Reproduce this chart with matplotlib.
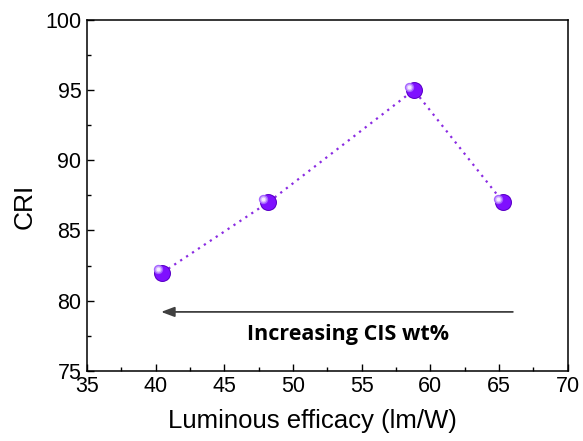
import numpy as np
import matplotlib
matplotlib.use("Agg")
import matplotlib.pyplot as plt
from matplotlib.ticker import MultipleLocator

# Luminous efficacy (lm/W) vs. CRI
efficacy = [40.5, 48.2, 58.8, 65.3]
cri = [82, 87, 95, 87]

plt.rcParams["font.family"] = ["Liberation Sans", "DejaVu Sans"]

fig = plt.figure(figsize=(5.83, 4.41), dpi=100)
ax = fig.add_axes([0.149, 0.159, 0.825, 0.796])

ax.plot(efficacy, cri, linestyle=(0, (1, 2.2)), color="#8a2be2", lw=1.6, zorder=2)

# spheres: dark rim -> purple body -> light highlight
ax.scatter(efficacy, cri, s=150, color="#5a00c8", zorder=3, linewidths=0)
ax.scatter(efficacy, cri, s=115, color="#7f10ff", zorder=4, linewidths=0)
for k, (sz, c) in enumerate([(45, "#a565ff"), (22, "#d2b0ff"), (8, "#f4ecff")]):
    ax.scatter(np.array(efficacy) - 0.35, np.array(cri) + 0.25, s=sz, color=c,
               zorder=5 + k, linewidths=0)

ax.annotate("", xy=(40.2, 79.2), xytext=(66.2, 79.2),
            arrowprops=dict(arrowstyle="-|>,head_length=0.8,head_width=0.3",
                            color="#404040", lw=1.3))
ax.text(54.0, 77.6, "Increasing CIS wt%", ha="center", va="center",
        fontsize=15.5, fontweight="bold", family=["Open Sans", "DejaVu Sans"])

ax.set_xlim(35, 70)
ax.set_ylim(75, 100)
ax.xaxis.set_major_locator(MultipleLocator(5))
ax.xaxis.set_minor_locator(MultipleLocator(2.5))
ax.yaxis.set_major_locator(MultipleLocator(5))
ax.yaxis.set_minor_locator(MultipleLocator(2.5))
ax.tick_params(which="both", direction="in", top=False, right=False, labelsize=15.5)
ax.tick_params(which="major", length=5, width=1, pad=4)
ax.tick_params(which="minor", length=3, width=1)
for sp in ax.spines.values():
    sp.set_linewidth(1.1)

ax.set_xlabel("Luminous efficacy (lm/W)", fontsize=18.5)
ax.xaxis.set_label_coords(0.47, -0.11)
ax.set_ylabel("CRI", fontsize=19)
ax.yaxis.set_label_coords(-0.105, 0.47)

fig.savefig("out.png", dpi=100)
